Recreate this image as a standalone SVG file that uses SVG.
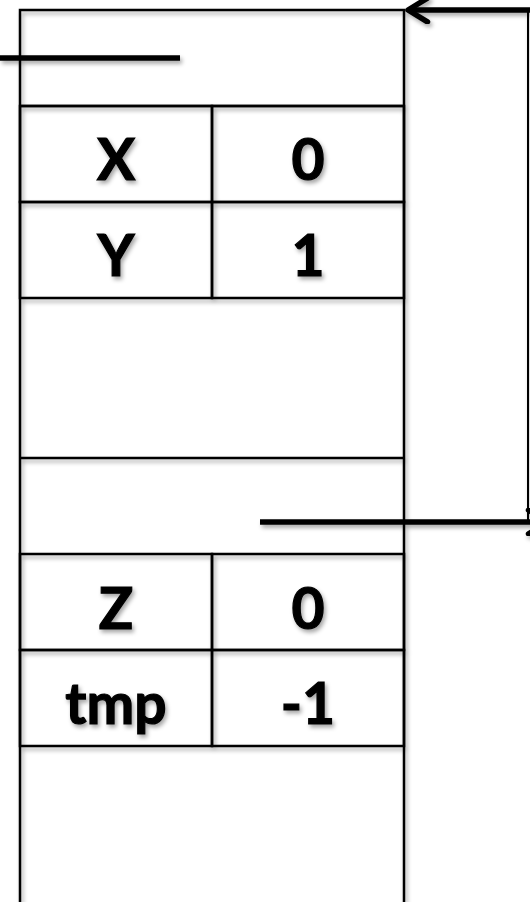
<svg xmlns="http://www.w3.org/2000/svg" width="530" height="902" viewBox="0 0 530 902">
<style>
.cell{fill:none;stroke:#000;stroke-width:2.5}
.lbl{font-family:Lato,"Open Sans","Liberation Sans",sans-serif;font-weight:bold;font-size:57px;fill:#000;stroke:#000;stroke-width:1.2;text-anchor:middle}
.ptr{stroke:#000;stroke-width:5.5;fill:none}
</style>
<defs>
<filter id="sh" x="-10%" y="-10%" width="130%" height="130%">
<feDropShadow dx="2" dy="3" stdDeviation="2" flood-color="#000" flood-opacity="0.35"/>
</filter>
<marker id="ah" viewBox="0 0 12 12" refX="10" refY="6" markerWidth="5" markerHeight="5" orient="auto" markerUnits="strokeWidth">
<path d="M1.5,0.8 L10,6 L1.5,11.2" fill="none" stroke="#000" stroke-width="2.4" stroke-linecap="round" stroke-linejoin="round"/>
</marker>
</defs>
<rect width="530" height="902" fill="#fff"/>
<g filter="url(#sh)">
<g id="frame"><rect class="cell" x="20" y="10" width="384" height="960"/></g>
<g id="cell-top"><line class="cell" x1="20" y1="106" x2="404" y2="106"/></g>
<g id="row-x"><rect class="cell" x="20" y="106" width="192" height="96"/><rect class="cell" x="212" y="106" width="192" height="96"/><text class="lbl" x="116" y="180">X</text><text class="lbl" x="308" y="180">0</text></g>
<g id="row-y"><rect class="cell" x="20" y="202" width="192" height="96"/><rect class="cell" x="212" y="202" width="192" height="96"/><text class="lbl" x="116" y="276">Y</text><text class="lbl" x="308" y="276">1</text></g>
<g id="cell-empty"><line class="cell" x1="20" y1="458" x2="404" y2="458"/></g>
<g id="row-z"><rect class="cell" x="20" y="554" width="192" height="96"/><rect class="cell" x="212" y="554" width="192" height="96"/><text class="lbl" x="116" y="629">Z</text><text class="lbl" x="308" y="629">0</text></g>
<g id="row-tmp"><rect class="cell" x="20" y="650" width="192" height="96"/><rect class="cell" x="212" y="650" width="192" height="96"/><text class="lbl" x="116" y="724">tmp</text><text class="lbl" x="308" y="724">-1</text></g>
<g id="connectors">
<line class="ptr" x1="530" y1="10" x2="408" y2="10" marker-end="url(#ah)"/>
<line class="ptr" x1="0" y1="58" x2="180" y2="58"/>
<line x1="528" y1="10" x2="528" y2="522" stroke="#000" stroke-width="2"/>
<line class="ptr" x1="260" y1="522" x2="548" y2="522" marker-end="url(#ah)"/>
</g>
</g>
</svg>
